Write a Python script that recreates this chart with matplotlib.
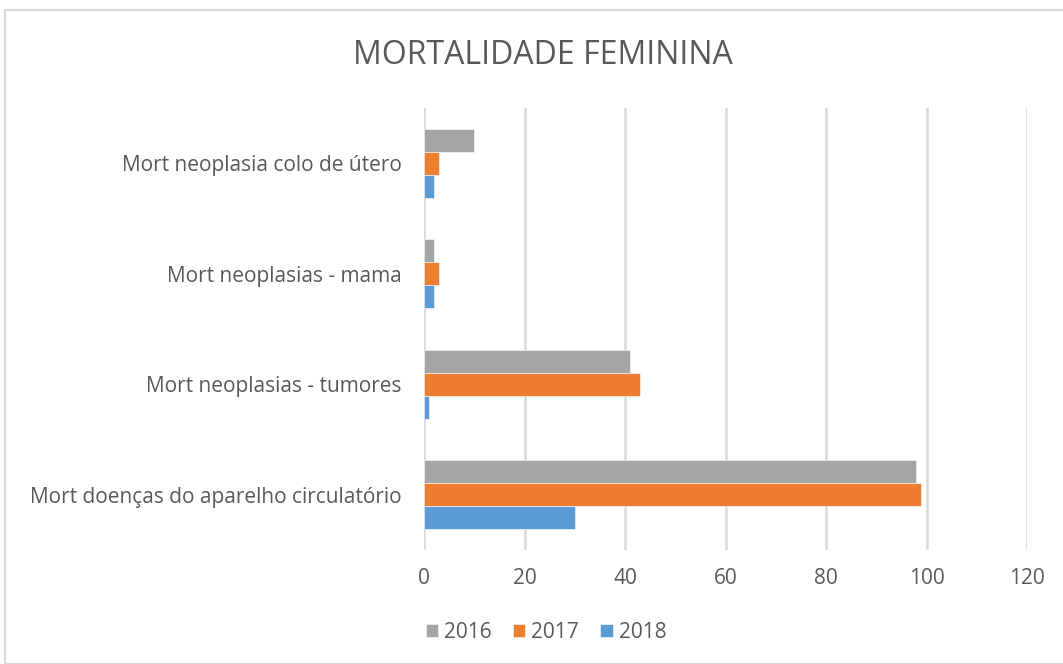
import matplotlib
matplotlib.use("Agg")
import matplotlib.pyplot as plt
from matplotlib.patches import Rectangle
import numpy as np

plt.rcParams['font.family'] = ['Open Sans', 'DejaVu Sans']

categories = [
    "Mort neoplasia colo de útero",
    "Mort neoplasias - mama",
    "Mort neoplasias - tumores",
    "Mort doenças do aparelho circulatório",
]
years = ["2016", "2017", "2018"]
values_2016 = [10, 2, 41, 98]
values_2017 = [3, 3, 43, 99]
values_2018 = [2, 2, 1, 30]
colors = ["#A5A5A5", "#ED7D31", "#5B9BD5"]
x_ticks = [0, 20, 40, 60, 80, 100, 120]

W, H = 1063, 664
fig = plt.figure(figsize=(W / 100, H / 100), dpi=100)

# chart frame
fig.patches.append(Rectangle((5 / W, 0), 1.2, (H - 10) / H, transform=fig.transFigure,
                             fill=False, edgecolor="#D9D9D9", linewidth=1.5))

ax = fig.add_axes([424 / W, (H - 550) / H, (1027 - 424) / W, (550 - 108) / H])

y = np.arange(len(categories))
h = 0.209
for k, (vals, col, lab) in enumerate(zip([values_2016, values_2017, values_2018], colors, years)):
    ax.barh(y + (k - 1) * h, vals, height=h, color=col, label=lab,
            edgecolor="white", linewidth=0.4, zorder=3)

ax.set_xlim(0, 120)
ax.set_ylim(len(categories) - 0.5, -0.5)
ax.set_xticks(x_ticks)
ax.set_xticklabels([str(t) for t in x_ticks])
ax.set_yticks(y)
ax.set_yticklabels(categories)
ax.tick_params(axis="both", length=0, labelcolor="#595959")
ax.tick_params(axis="x", pad=13, labelsize=15)
ax.tick_params(axis="y", pad=16, labelsize=15)
ax.xaxis.grid(True, color="#D9D9D9", linewidth=1.8, zorder=0)
ax.set_axisbelow(True)
for s in ax.spines.values():
    s.set_visible(False)

fig.text(543 / W, 1 - 56 / H, "MORTALIDADE FEMININA", ha="center", va="center",
         fontsize=23, color="#595959")

fig.legend(loc="center", bbox_to_anchor=(546 / W, 1 - 632 / H), ncol=3, frameon=False,
           fontsize=15, labelcolor="#595959", handlelength=0.6, handleheight=0.6,
           handletextpad=0.3, columnspacing=1.0)

fig.savefig("out.png", dpi=100)
